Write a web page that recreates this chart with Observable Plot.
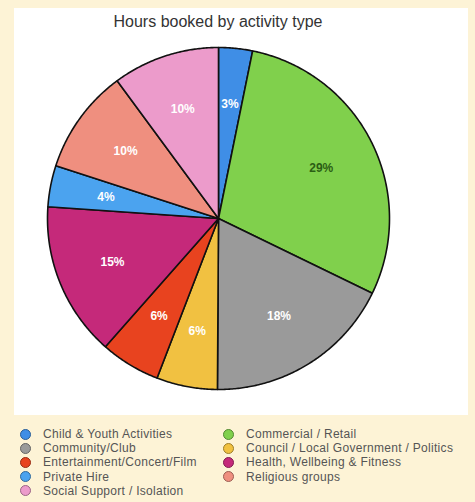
<!DOCTYPE html>
<html>
<head>
<meta charset="utf-8">
<script src="https://cdn.jsdelivr.net/npm/d3@7"></script>
<script src="https://cdn.jsdelivr.net/npm/@observablehq/plot@0.6"></script>
<style>
  html, body { margin: 0; padding: 0; }
  body { width: 475px; height: 502px; background: #fdf3d6; font-family: "Liberation Sans", Arial, sans-serif; position: relative; overflow: hidden; }
  #panel { position: absolute; left: 14px; top: 8px; width: 454px; height: 407px; background: #ffffff; }
  #title { height: 30px; line-height: 28px; text-align: center; font-size: 16px; color: #333; padding-right: 46px; box-sizing: border-box; }
  #legend { position: absolute; left: 20px; top: 427px; display: grid; grid-template-columns: 203px 245px; font-size: 12px; letter-spacing: 0.3px; color: #555; }
  .item { display: flex; align-items: center; height: 14.2px; white-space: nowrap; }
  .sw { width: 9px; height: 9px; border-radius: 50%; margin-right: 12px; flex: none; }
</style>
</head>
<body>
<div id="panel"><div id="title">Hours booked by activity type</div><div id="chart"></div></div>
<div id="legend"></div>
<script>
const categories = [
  "Child & Youth Activities",
  "Commercial / Retail",
  "Community/Club",
  "Council / Local Government / Politics",
  "Entertainment/Concert/Film",
  "Health, Wellbeing & Fitness",
  "Private Hire",
  "Religious groups",
  "Social Support / Isolation"
];
const shares = [3.2, 29.0, 17.9, 5.75, 5.65, 14.6, 3.9, 9.9, 10.1];
const colors = ["#3f8ee6", "#80d04c", "#9a9a9a", "#f1c141", "#e8431f", "#c5297a", "#4ba3ef", "#ef8f7f", "#ec9bcb"];
const labelColors = ["#ffffff", "#2b5e14", "#ffffff", "#ffffff", "#ffffff", "#ffffff", "#ffffff", "#ffffff", "#ffffff"];

const data = categories.map((c, i) => ({cat: c, value: shares[i], color: colors[i], lc: labelColors[i]}));
const total = d3.sum(shares);
const arcs = d3.pie().sort(null).value(d => d.value)(data);

const poly = [];
arcs.forEach(a => {
  const n = Math.max(4, Math.ceil((a.endAngle - a.startAngle) / (Math.PI / 360)));
  poly.push({cat: a.data.cat, x: 0, y: 0});
  for (let k = 0; k <= n; k++) {
    const t = a.startAngle + (a.endAngle - a.startAngle) * k / n;
    poly.push({cat: a.data.cat, x: Math.sin(t), y: Math.cos(t)});
  }
  poly.push({cat: a.data.cat, x: 0, y: 0});
});

const labels = arcs.map(a => {
  const m = (a.startAngle + a.endAngle) / 2;
  return {cat: a.data.cat, x: 0.67 * Math.sin(m), y: 0.67 * Math.cos(m),
          text: Math.round(a.data.value / total * 100) + "%", lc: a.data.lc};
});

const chart = Plot.plot({
  width: 454,
  height: 377,
  margin: 0,
  x: {domain: [-1, 1], range: [33, 375], axis: null},
  y: {domain: [-1, 1], range: [351, 9], axis: null},
  color: {domain: categories, range: colors},
  style: {background: "transparent", fontFamily: "'Liberation Sans', Arial, sans-serif"},
  marks: [
    Plot.line(poly, {x: "x", y: "y", z: "cat", fill: "cat", stroke: "#111", strokeWidth: 1.6, curve: "linear-closed"}),
    Plot.text(labels, {x: "x", y: "y", text: "text", fill: d => d.lc, fontSize: 12, fontWeight: "bold"})
  ]
});
document.getElementById("chart").appendChild(chart);

const legend = document.getElementById("legend");
categories.forEach((c, i) => {
  const it = document.createElement("div");
  it.className = "item";
  const sw = document.createElement("span");
  sw.className = "sw";
  sw.style.background = colors[i];
  sw.style.border = "1.5px solid " + d3.color(colors[i]).darker(1.2);
  it.appendChild(sw);
  const tx = document.createElement("span");
  tx.textContent = c;
  it.appendChild(tx);
  legend.appendChild(it);
});
</script>
</body>
</html>
